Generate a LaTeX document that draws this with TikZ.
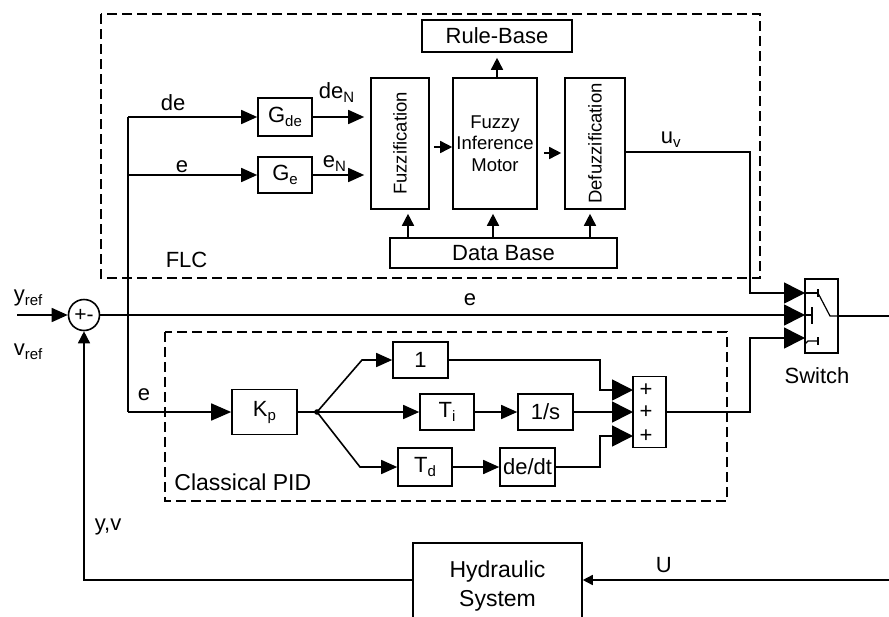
\documentclass[tikz,border=0pt]{standalone}
\usepackage{fontspec}
\setmainfont{Liberation Sans}
\usetikzlibrary{arrows.meta}
\newcommand\sbs[1]{\raisebox{-4pt}{\fontsize{15}{15}\selectfont #1}}
\begin{document}
\begin{tikzpicture}[x=1pt,y=-1pt, line width=1.6pt,
  blk/.style={draw, inner sep=0pt, font=\fontsize{22}{26}\selectfont},
  lbl/.style={inner sep=0pt, font=\fontsize{22}{26}\selectfont},
  vtxt/.style={rotate=90, inner sep=0pt, font=\fontsize{18.5}{20}\selectfont},
  arrM/.style={-{Triangle[length=16pt,width=14pt]}},
  arrS/.style={-{Triangle[length=12pt,width=12pt]}},
  arrT/.style={-{Triangle[length=10pt,width=10pt]}},
  arrB/.style={-{Triangle[length=21pt,width=21pt]}},
  arrK/.style={-{Triangle[length=20pt,width=17pt]}},
  dbox/.style={dash pattern=on 10pt off 5pt, line width=1.5pt}
]
\useasboundingbox (0,0) rectangle (889,616);
\fill[white] (0,0) rectangle (889,616);
\clip (0,0) rectangle (889,616);

% dashed frames
\draw[dbox] (101,14) rectangle (760,278);
\draw[dbox] (165,332) rectangle (727,501);

% FLC blocks
\node[blk, minimum width=150pt, minimum height=32pt] (RB) at (497,36) {Rule-Base};
\node[blk, minimum width=58pt, minimum height=131pt] (Fuz) at (400,143.5) {};
\node[vtxt] (FuzT) at (Fuz) {Fuzzification};
\node[blk, minimum width=84pt, minimum height=131pt, align=center, font=\fontsize{18.5}{21.5}\selectfont] (FIM) at (495,143.5) {Fuzzy\\Inference\\Motor};
\node[blk, minimum width=60pt, minimum height=131pt] (Def) at (595,143.5) {};
\node[vtxt] (DefT) at (Def) {Defuzzification};
\node[blk, minimum width=227pt, minimum height=30pt] (DB) at (503.5,253) {Data Base};
\node[blk, minimum width=54pt, minimum height=38pt] (Gde) at (285,117) {G\sbs{de}};
\node[blk, minimum width=54pt, minimum height=36pt] (Ge) at (285,175) {G\sbs{e}};

% PID blocks
\node[blk, minimum width=65pt, minimum height=45pt] (Kp) at (264.5,412) {K\sbs{p}};
\node[blk, minimum width=55pt, minimum height=36pt] (One) at (420.5,360) {1};
\node[blk, minimum width=54pt, minimum height=36pt] (Ti) at (447,412) {T\sbs{i}};
\node[blk, minimum width=55pt, minimum height=36pt] (Is) at (545.5,412) {1/s};
\node[blk, minimum width=54pt, minimum height=38pt] (Td) at (425,467) {T\sbs{d}};
\node[blk, minimum width=55pt, minimum height=38pt] (Dd) at (527.5,467) {de/dt};
\node[blk, minimum width=33pt, minimum height=71pt] (Sum) at (649.5,412) {};
\node[lbl] (P1) at (646,390) {+};
\node[lbl] (P2) at (646,412) {+};
\node[lbl] (P3) at (646,436) {+};

% switch, junction, plant
\node[blk, minimum width=33pt, minimum height=74pt] (Sw) at (821.5,316) {};
\node[blk, circle, minimum size=31pt, font=\fontsize{21}{22}\selectfont] (sumj) at (84,315) {+-};
\node[blk, minimum width=169pt, minimum height=86pt, align=center, font=\fontsize{23}{29}\selectfont] (Hyd) at (497.5,586) {Hydraulic\\System};

% labels
\node[lbl, anchor=base west] (Lde) at (160,110) {de};
\node[lbl, anchor=base west] (Le1) at (175,172) {e};
\node[lbl, anchor=base west] (LdeN) at (318,98) {de\sbs{N}};
\node[lbl, anchor=base west] (LeN) at (322,167) {e\sbs{N}};
\node[lbl, anchor=base west] (Luv) at (660,143) {u\sbs{v}};
\node[lbl, anchor=base west] (LFLC) at (165,267) {FLC};
\node[lbl, anchor=base west] (Lyref) at (13,301) {y\sbs{ref}};
\node[lbl, anchor=base west] (Lvref) at (13,355) {v\sbs{ref}};
\node[lbl, anchor=base west] (Le2) at (463,305) {e};
\node[lbl, anchor=base west] (Le3) at (137,400) {e};
\node[lbl, anchor=base east, font=\fontsize{23}{26}\selectfont] (LPID) at (312,490) {Classical PID};
\node[lbl, anchor=base] (LSw) at (817,383) {Switch};
\node[lbl, anchor=base west] (Lyv) at (94,530) {y,v};
\node[lbl, anchor=base west] (LU) at (655,572) {U};

% coordinates
\coordinate (yin) at (17,315);
\coordinate (jde) at (128,117);
\coordinate (je) at (128,175);
\coordinate (jk) at (128,412);
\coordinate (s1) at (805,293);
\coordinate (s2) at (805,315);
\coordinate (s3) at (805,338);
\coordinate (uv1) at (750,152);
\coordinate (uv2) at (750,293);
\coordinate (bp) at (317,412);
\coordinate (b1) at (362,360);
\coordinate (b3) at (360,467);
\coordinate (q1) at (633,390);
\coordinate (q2) at (633,412);
\coordinate (q3) at (633,436);
\coordinate (m1) at (600,360);
\coordinate (m1b) at (600,390);
\coordinate (m3) at (600,467);
\coordinate (m3b) at (600,436);
\coordinate (o1) at (750,412);
\coordinate (o2) at (750,338);
\coordinate (swo) at (889,316);
\coordinate (uin) at (889,580);

% main loop
\draw[arrM] (yin) -- (sumj.west);
\draw[arrB] (sumj.east) -- (s2);
\draw (jde) -- (jk);
\draw[arrM] (jde) -- (Gde.west);
\draw[arrM] (je) -- (Ge.west);
\draw[arrK] (jk) -- (Kp.west);

% FLC connections
\draw[arrM, shorten >=6pt] (Gde.east) -- (Gde.east -| Fuz.west);
\draw[arrM, shorten >=6pt] (Ge.east) -- (Ge.east -| Fuz.west);
\draw[arrS, shorten <=4pt] (Fuz.east |- 0,147) -- (FIM.west |- 0,147);
\draw[arrS, shorten <=6pt, shorten >=3pt] (FIM.east |- 0,153) -- (Def.west |- 0,153);
\draw[arrS, shorten >=5pt] (RB.south |- FIM.north) -- (RB.south);
\draw[arrS, shorten >=4pt] ([xshift=8pt]Fuz.south |- DB.north) -- ([xshift=8pt]Fuz.south);
\draw[arrS, shorten >=4pt] ([xshift=-2pt]FIM.south |- DB.north) -- ([xshift=-2pt]FIM.south);
\draw[arrS, shorten >=4pt] ([xshift=-5pt]Def.south |- DB.north) -- ([xshift=-5pt]Def.south);
\draw[arrB] (Def.east |- uv1) -- (uv1) -- (uv2) -- (s1);

% PID connections
\draw (Kp.east) -- (bp);
\fill (bp) circle (2.8);
\draw[arrM] (bp) -- (b1) -- (One.west);
\draw[arrM] (bp) -- (Ti.west);
\draw[arrM] (bp) -- (b3) -- (Td.west);
\draw[arrM] (Ti) -- (Is);
\draw[arrM] (Td) -- (Dd);
\draw[arrB] (One.east) -- (m1) -- (m1b) -- (q1);
\draw[arrB] (Is.east) -- (q2);
\draw[arrB] (Dd.east) -- (m3) -- (m3b) -- (q3);
\draw[arrB] (Sum.east) -- (o1) -- (o2) -- (s3);

% switch internals and output
\draw[line width=1.2pt] (805,293) -- (818,293);
\draw[line width=1.2pt] (818,289) -- (818,297);
\draw[line width=1.2pt] (818,293) -- (830,316) -- (838,316);
\draw[line width=1.2pt] (805,315) -- (812,315);
\draw[line width=1.5pt] (812,307) -- (812,324);
\draw[line width=1.2pt] (805,344) -- (808,341) -- (818,341);
\draw[line width=1.2pt] (818,337) -- (818,345);
\draw (Sw.east |- swo) -- (swo);

% plant
\draw[arrT] (uin) -- (Hyd.east |- uin);
\draw[arrS] (Hyd.west |- uin) -- (sumj.south |- uin) -- (sumj.south);
\end{tikzpicture}
\end{document}
